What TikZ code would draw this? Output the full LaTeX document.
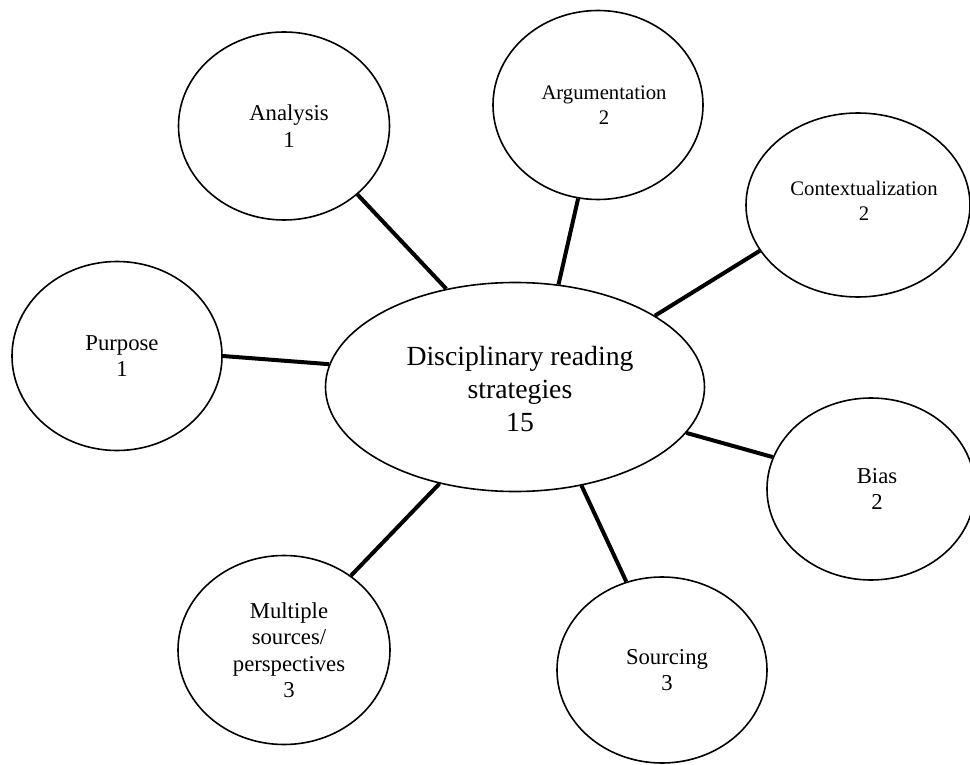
\documentclass[tikz,border=0pt]{standalone}
\usepackage{fontspec}
\setmainfont{Liberation Serif}
\usetikzlibrary{shapes.geometric}
\begin{document}
\begin{tikzpicture}[x=1pt,y=-1pt,
  bubble/.style={draw=black, ellipse, line width=1.6pt, inner sep=0pt},
  lbl/.style={inner sep=0pt, align=center, text=black,
    font=\fontsize{22.7}{26.5}\selectfont},
  lblsmall/.style={lbl, font=\fontsize{20.7}{25}\selectfont},
  hublbl/.style={lbl, font=\fontsize{27.7}{33}\selectfont},
  link/.style={draw=black, line width=4pt}]
\useasboundingbox (0,0) rectangle (970,765);
\fill[white] (0,0) rectangle (970,765);

\node[bubble, minimum width=379pt, minimum height=209pt] (hubnode) at (515,387) {};
\node[bubble, minimum width=211pt, minimum height=188pt] (analysis) at (284,126) {};
\node[bubble, minimum width=210pt, minimum height=189pt] (argum) at (598,105) {};
\node[bubble, minimum width=224pt, minimum height=184pt] (context) at (858,205) {};
\node[bubble, minimum width=210pt, minimum height=189pt] (purpose) at (117,356) {};
\node[bubble, minimum width=208pt, minimum height=182pt] (bias) at (871,489) {};
\node[bubble, minimum width=210pt, minimum height=186pt] (sourcing) at (662,670) {};
\node[bubble, minimum width=212pt, minimum height=189pt] (multiple) at (284,650) {};

\node[hublbl] (hubT) at ([xshift=5pt,yshift=-2pt]hubnode.center) {Disciplinary reading\\strategies\\15};
\node[lbl] (analysisT) at ([xshift=5pt]analysis.center) {Analysis\\1};
\node[lblsmall] (argumT) at ([xshift=6pt]argum.center) {Argumentation\\2};
\node[lblsmall] (contextT) at ([xshift=6pt,yshift=4pt]context.center) {Contextualization\\2};
\node[lbl] (purposeT) at ([xshift=5pt]purpose.center) {Purpose\\1};
\node[lbl] (biasT) at ([xshift=6pt]bias.center) {Bias\\2};
\node[lbl] (sourcingT) at ([xshift=5pt]sourcing.center) {Sourcing\\3};
\node[lbl] (multipleT) at ([xshift=5pt]multiple.center) {Multiple\\sources/\\perspectives\\3};

\draw[link] (analysis.-43) -- (hubnode.125.5);
\draw[link] (argum.-102.7) -- (hubnode.67.4);
\draw[link] (context.-155.6) -- (hubnode.27);
\draw[link] (purpose.0) -- (hubnode.173.7);
\draw[link] (bias.162) -- (hubnode.-15.1);
\draw[link] (sourcing.112) -- (hubnode.-56);
\draw[link] (multiple.48.7) -- (hubnode.-128);
\end{tikzpicture}
\end{document}
